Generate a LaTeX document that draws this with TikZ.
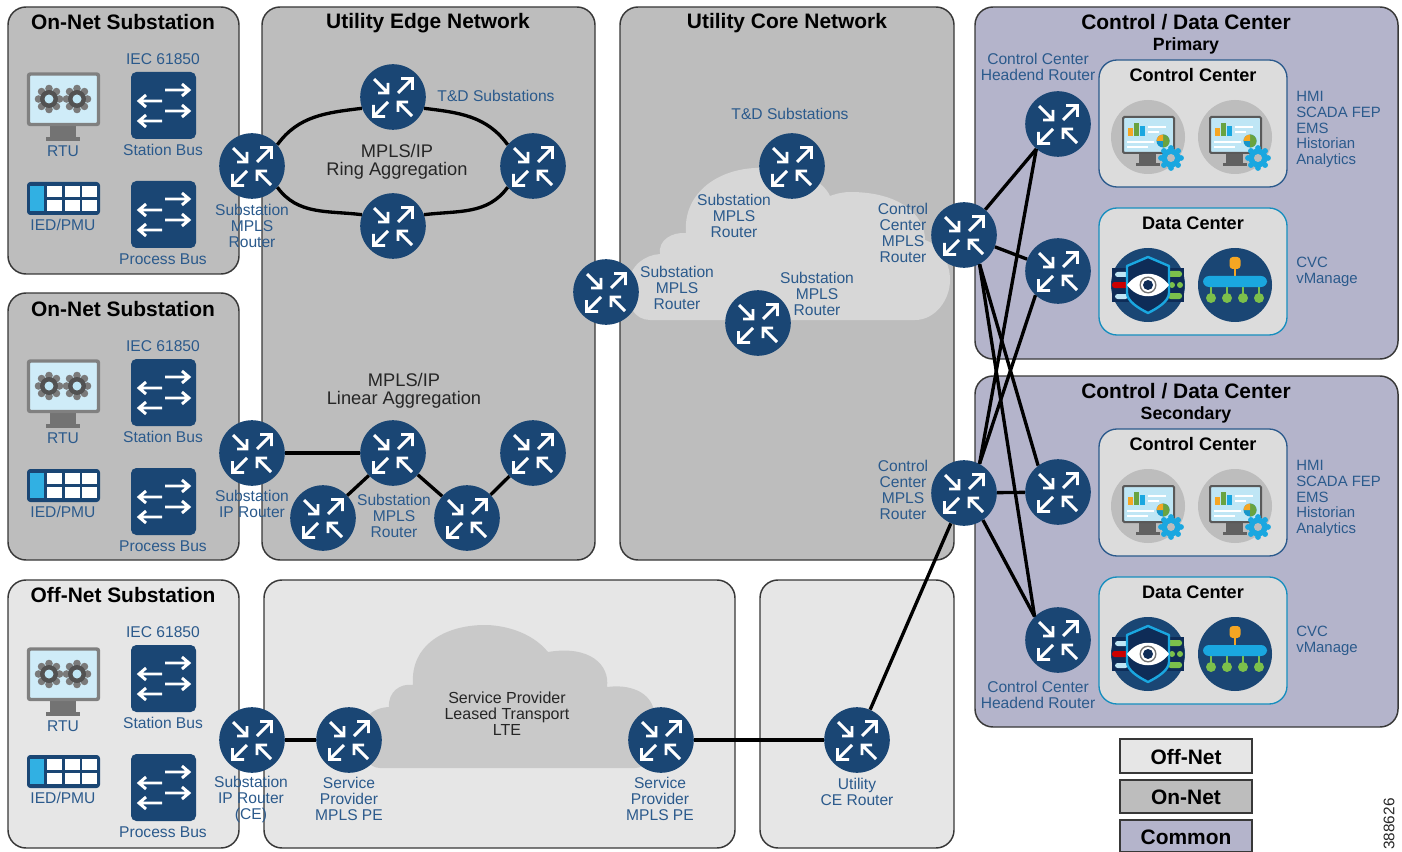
\documentclass[tikz,border=0pt]{standalone}
\usepackage{fontspec}
\setmainfont{Liberation Sans}
\definecolor{navy}{HTML}{1A4674}
\definecolor{deepnavy}{HTML}{0E2C57}
\definecolor{labblue}{HTML}{2B5A8C}
\definecolor{onnet}{HTML}{BDBDBD}
\definecolor{offnet}{HTML}{E6E6E6}
\definecolor{common}{HTML}{B4B4CB}
\definecolor{inner}{HTML}{DCDCDC}
\definecolor{cyanb}{HTML}{1AA7E0}
\definecolor{screen}{HTML}{BFE6F5}
\definecolor{grn}{HTML}{7CC04B}
\definecolor{org}{HTML}{F5A623}
\tikzset{
  panel/.style={draw=black!78,line width=1.1pt,rounded corners=13.5pt},
  lab/.style={inner sep=0pt,text=labblue,align=center,font=\fontsize{11.7}{12}\selectfont},
  lableft/.style={lab,align=left},
  dark/.style={inner sep=0pt,text=black!85,align=center,font=\fontsize{12}{12}\selectfont},
  bigdark/.style={inner sep=0pt,text=black!85,align=center,font=\fontsize{13.7}{13.5}\selectfont},
  ttl/.style={inner sep=0pt,text=black,font=\bfseries\fontsize{15.7}{16}\selectfont},
  sttl/.style={inner sep=0pt,text=black,font=\bfseries\fontsize{13.3}{14}\selectfont},
  legbox/.style={draw=black!78,line width=1.1pt},
  routernode/.style={circle,fill=navy,minimum size=49.2pt,inner sep=0pt},
  link/.style={draw=black,line width=2.5pt},
  warrow/.style={draw=white,line width=2.2pt},
  busarrow/.style={draw=white,line width=2.2pt},
}
\newcommand{\router}[3]{%
  \node[routernode] (#1) at (#2,#3) {};
  \begin{scope}[shift={(#2,#3)}]
    \draw[warrow] (-19,-18)--(-5,-4) (-5,-14)--(-5,-4)--(-15,-4);
    \draw[warrow] (5,-4)--(19,-18) (8,-18.5)--(19.5,-18.5)--(19.5,-7);
    \draw[warrow] (-5,5)--(-19,19) (-19.5,8)--(-19.5,19.5)--(-8,19.5);
    \draw[warrow] (19,19)--(5,5) (5,15)--(5,5)--(15,5);
  \end{scope}}
\newcommand{\busarrows}{%
  \draw[busarrow] (165,90)--(189,90) (182,84)--(189,90)--(182,96);
  \draw[busarrow] (139,101)--(162,101) (146,95)--(139,101)--(146,107);
  \draw[busarrow] (165,111)--(189,111) (182,105)--(189,111)--(182,117);
  \draw[busarrow] (139,121)--(162,121) (146,115)--(139,121)--(146,127);}
\newcommand{\gearicon}[2]{%
  \begin{scope}[shift={(#1,#2)}]
    \foreach \a in {0,45,...,315}{\fill[black!52] (\a:10.5) circle[radius=3.8];}
    \fill[black!68] (0,0) circle[radius=9];
    \fill[screen] (0,0) circle[radius=4.5];
  \end{scope}}
\newcommand{\substation}[4]{% prefix, y offset, title, rtu extra offset
  \begin{scope}[shift={(0,#2)}]
    \node[ttl] (#1title) at (123,22) {#3};
    \node[lab] (#1iec) at (163,59) {IEC 61850};
    \fill[navy,rounded corners=4pt] (131,72) rectangle (196,139);
    \busarrows
    \node[lab] (#1sbus) at (163,150) {Station Bus};
    \begin{scope}[shift={(0,109)}]
      \fill[navy,rounded corners=4pt] (131,72) rectangle (196,139);
      \busarrows
    \end{scope}
    \node[lab] (#1pbus) at (163,259) {Process Bus};
    \begin{scope}[shift={(0,#4)}]
      \fill[black!55] (50,126) rectangle (76,137);
      \fill[black!55] (46,137) rectangle (80,141);
      \draw[draw=black!50,fill=screen!75!white,line width=2.6pt,rounded corners=1.5pt] (28.5,74) rectangle (98.5,124.5);
      \gearicon{49}{99}
      \gearicon{77}{99}
      \node[lab] (#1rtu) at (63,151) {RTU};
    \end{scope}
    \fill[navy,rounded corners=2.5pt] (27,182) rectangle (100,215);
    \fill[cyanb!90!white] (30,186) rectangle (44,211);
    \foreach \cx in {47,65,82}{
      \fill[white] (\cx,186) rectangle +(15,11);
      \fill[white] (\cx,200) rectangle +(15,11);}
    \node[lab] (#1ied) at (63,225) {IED/PMU};
  \end{scope}}
\newcommand{\pcicon}[2]{%
  \begin{scope}[shift={(#1,#2)}]
    \fill[black!26] (0,0) circle[radius=37];
    \fill[black!62] (-9,16) rectangle (8,26);
    \fill[black!62] (-12,26) rectangle (12,29);
    \draw[draw=black!65,fill=screen,line width=1.5pt,rounded corners=1pt] (-25,-20) rectangle (26,16);
    \fill[org] (-20,-9) rectangle (-15,-1);
    \fill[grn!85!black] (-14,-14) rectangle (-9,-1);
    \fill[cyanb] (-8,-11) rectangle (-3,-1);
    \draw[white,line width=1pt] (0,-10)--(18,-10) (0,-5)--(11,-5) (-21,5)--(6,5) (-21,10)--(0,10);
    \fill[cyanb!90!black] (15,4) circle[radius=6.5];
    \fill[grn!85!black] (15,4) -- (15,-2.5) arc[start angle=-90,end angle=90,radius=6.5] -- cycle;
    \fill[org] (15,4) -- (8.5,4) arc[start angle=180,end angle=270,radius=6.5] -- cycle;
    \begin{scope}[shift={(23,21)}]
      \foreach \a in {0,45,...,315}{\fill[cyanb] (\a:10) circle[radius=2.9];}
      \fill[cyanb] (0,0) circle[radius=9.5];
      \fill[black!26] (0,0) circle[radius=4];
    \end{scope}
  \end{scope}}
\newcommand{\shieldicon}[2]{%
  \begin{scope}[shift={(#1,#2)}]
    \fill[navy] (0,0) circle[radius=37];
    \fill[deepnavy] (-36,-17) rectangle (36,17);
    \fill[screen,rounded corners=2pt] (-33,-13) rectangle (-20,-8);
    \fill[red!80!black,rounded corners=2pt] (-36,-3) rectangle (-20,3);
    \fill[screen,rounded corners=2pt] (-33,9) rectangle (-20,14);
    \fill[grn,rounded corners=2pt] (20,-14) rectangle (34,-8);
    \fill[grn] (24,0) circle[radius=3];
    \fill[grn] (32,0) circle[radius=3];
    \fill[grn,rounded corners=2pt] (20,8) rectangle (34,14);
    \draw[draw=cyanb,fill=deepnavy,line width=1.8pt,line join=round]
      (0,-28) -- (-21,-19) -- (-21,8) .. controls (-21,16) and (-10,23) .. (0,28)
      .. controls (10,23) and (21,16) .. (21,8) -- (21,-19) -- cycle;
    \fill[white] (-21,0) .. controls (-10,-15) and (10,-15) .. (21,0) .. controls (10,15) and (-10,15) .. (-21,0) -- cycle;
    \fill[black!55] (0,0) circle[radius=8.5];
    \fill[white] (0,0) circle[radius=7];
    \fill[deepnavy] (0,0) circle[radius=5];
  \end{scope}}
\newcommand{\neticon}[2]{%
  \begin{scope}[shift={(#1,#2)}]
    \fill[navy] (0,0) circle[radius=37];
    \draw[org,line width=1pt] (0,-20)--(0,-9);
    \fill[org,rounded corners=2.5pt] (-5.5,-28) rectangle (5.5,-16);
    \foreach \cx in {-24,-8,8,24}{
      \draw[grn,line width=1pt] (\cx,0)--(\cx,12);
      \fill[grn] (\cx,13) circle[radius=5];}
    \fill[cyanb,rounded corners=4.5pt] (-32,-9) rectangle (32,2);
  \end{scope}}
\newcommand{\dcblock}[2]{% prefix, y offset
  \begin{scope}[shift={(0,#2)}]
    \draw[draw=labblue,fill=inner,line width=1pt,rounded corners=13.5pt] (1099,60) rectangle (1287,187);
    \draw[draw=cyanb!85!black,fill=inner,line width=1pt,rounded corners=13.5pt] (1099,208) rectangle (1287,335);
    \node[sttl,font=\bfseries\fontsize{13.6}{14}\selectfont] (#1cc) at (1193,75) {Control Center};
    \node[sttl,font=\bfseries\fontsize{13.6}{14}\selectfont] (#1dc) at (1193,223) {Data Center};
    \pcicon{1148}{137}
    \pcicon{1235}{137}
    \shieldicon{1148}{285}
    \neticon{1235}{285}
    \node[lableft,anchor=west,font=\fontsize{11.2}{11.8}\selectfont] (#1apps) at (1296,129.5) {HMI\\SCADA FEP\\EMS\\Historian\\Analytics};
    \node[lableft,anchor=west,font=\fontsize{11.2}{12}\selectfont] (#1vm) at (1296,272) {CVC\\vManage};
  \end{scope}}
\begin{document}
\begin{tikzpicture}[x=0.75pt,y=-0.75pt]
\useasboundingbox (0,0) rectangle (1402,852);
\fill[white] (0,0) rectangle (1402,852);
% panels
\draw[panel,fill=onnet] (8,7) rectangle (239,274);
\draw[panel,fill=onnet] (8,293) rectangle (239,560);
\draw[panel,fill=offnet] (8,580) rectangle (239,848);
\draw[panel,fill=onnet] (262,7) rectangle (595,560);
\draw[panel,fill=onnet] (620,7) rectangle (954,560);
\draw[panel,fill=offnet] (264,580) rectangle (735,848);
\draw[panel,fill=offnet] (760,580) rectangle (954,848);
\draw[panel,fill=common] (975,7) rectangle (1398,359);
\draw[panel,fill=common] (975,376) rectangle (1398,727);
% clouds
\fill[black!15.5] (650,320) -- (915,320) .. controls (935,320) and (950,300) .. (950,280)
  .. controls (950,262) and (940,245) .. (925,240) .. controls (925,215) and (900,192) .. (850,192)
  .. controls (845,192) and (838,193) .. (830,196) .. controls (822,178) and (790,165) .. (755,168)
  .. controls (715,170) and (683,195) .. (686,233) .. controls (672,232) and (658,240) .. (660,254)
  .. controls (645,255) and (630,265) .. (628,285) .. controls (625,305) and (635,320) .. (650,320) -- cycle;
\fill[black!21] (380,768) -- (635,768) .. controls (660,768) and (665,720) .. (653,707)
  .. controls (648,692) and (630,684) .. (607,687) .. controls (610,665) and (590,645) .. (548,652)
  .. controls (530,630) and (500,625) .. (485,625) .. controls (445,625) and (410,645) .. (413,685)
  .. controls (400,683) and (388,692) .. (389,707) .. controls (370,708) and (360,720) .. (362,740)
  .. controls (362,755) and (368,768) .. (380,768) -- cycle;
% substations
\substation{a}{0}{On-Net Substation}{0}
\substation{b}{287}{On-Net Substation}{0}
\substation{c}{573}{Off-Net Substation}{2}
% data centres
\dcblock{p}{0}
\dcblock{s}{369}
% routers
\router{suba}{252}{166}
\router{rtop}{393}{97}
\router{rright}{533}{166}
\router{rbot}{393}{226}
\router{subb}{252}{453}
\router{lmid}{393}{453}
\router{lright}{533}{453}
\router{lbl}{323}{518}
\router{lbr}{467}{518}
\router{subc}{252}{740}
\router{pea}{349}{740}
\router{peb}{661}{740}
\router{uce}{857}{740}
\router{coreleft}{606}{292}
\router{coretop}{792}{166}
\router{corebot}{758}{323}
\router{cca}{964}{235}
\router{ccb}{964}{493}
\router{heada}{1058}{124}
\router{fwa}{1058}{271}
\router{fwb}{1058}{492}
\router{headb}{1058}{640}
% connectors
\draw[link] (suba.40) to[out=54,in=187] (rtop.200);
\draw[link] (rtop.-20) to[out=-7,in=126] (rright.140);
\draw[link] (suba.-40) to[out=-54,in=173] (rbot.160);
\draw[link] (rbot.20) to[out=7,in=-126] (rright.-140);
\draw[link] (subb) -- (lmid);
\draw[link] (lmid) -- (lbl);
\draw[link] (lmid) -- (lbr);
\draw[link] (lbr) -- (lright);
\draw[link] (subc) -- (pea);
\draw[link] (peb) -- (uce);
\draw[link] (uce) -- (ccb);
\draw[link] (cca.50) -- (heada.229);
\draw[link] (cca) -- (fwa);
\draw[link] (cca.-62) -- (fwb.127);
\draw[link] (cca.-62) -- (headb.135);
\draw[link] (ccb.62) -- (heada.229);
\draw[link] (ccb.62) -- (fwa.227);
\draw[link] (ccb) -- (fwb);
\draw[link] (ccb.-55) -- (headb.135);
% titles
\node[ttl] (tedge) at (428,23.5) {Utility Edge Network};
\node[ttl] (tcore) at (787,23.5) {Utility Core Network};
\node[ttl] (tdca) at (1186,22) {Control / Data Center};
\node[sttl] (tprim) at (1186,46) {Primary};
\node[ttl] (tdcb) at (1186,391) {Control / Data Center};
\node[sttl] (tsec) at (1186,415) {Secondary};
% labels
\node[lab] (l1) at (496,96) {T\&D Substations};
\node[lab] (l2) at (790,114) {T\&D Substations};
\node[lab] (l3) at (252,226) {Substation\\MPLS\\Router};
\node[bigdark] (l4) at (397,162) {MPLS/IP\\Ring Aggregation};
\node[lab] (l5) at (734,216) {Substation\\MPLS\\Router};
\node[lab] (l6) at (677,288) {Substation\\MPLS\\Router};
\node[lab] (l7) at (817,294) {Substation\\MPLS\\Router};
\node[lab] (l8) at (903,233) {Control\\Center\\MPLS\\Router};
\node[lab] (l9) at (903,490) {Control\\Center\\MPLS\\Router};
\node[lab] (l10) at (1038,67) {Control Center\\Headend Router};
\node[lab] (l11) at (1038,695) {Control Center\\Headend Router};
\node[bigdark] (l12) at (404,391) {MPLS/IP\\Linear Aggregation};
\node[lab] (l13) at (252,504) {Substation\\IP Router};
\node[lab] (l14) at (394,516) {Substation\\MPLS\\Router};
\node[lab] (l15) at (251,799) {Substation\\IP Router\\(CE)};
\node[lab] (l16) at (349,799) {Service\\Provider\\MPLS PE};
\node[lab] (l17) at (660,799) {Service\\Provider\\MPLS PE};
\node[lab] (l18) at (857,792) {Utility\\CE Router};
\node[dark] (l19) at (507,714) {Service Provider\\Leased Transport\\LTE};
% legend
\draw[legbox,fill=offnet] (1120,739) rectangle (1252,773);
\draw[legbox,fill=onnet] (1120,780) rectangle (1252,813);
\draw[legbox,fill=common] (1120,820) rectangle (1252,852);
\node[ttl] (la) at (1186,757) {Off-Net};
\node[ttl] (lb) at (1186,797) {On-Net};
\node[ttl] (lc) at (1186,837) {Common};
\node[inner sep=0pt,rotate=90,font=\fontsize{11.5}{12}\selectfont,text=black!85] (code) at (1389,824) {388626};
\end{tikzpicture}
\end{document}
